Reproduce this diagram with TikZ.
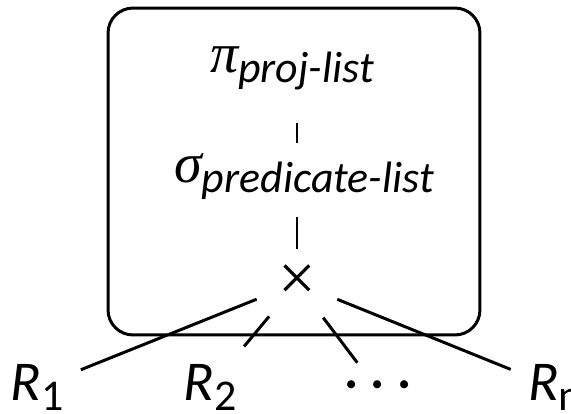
\documentclass[tikz,border=0pt]{standalone}
\usepackage{fontspec}
\setmainfont{Carlito}
\newfontfamily\greekfont{Liberation Serif}
\usetikzlibrary{positioning}
\newcommand{\lowsub}[1]{\raisebox{-0.19em}{\fontsize{25}{30}\selectfont #1}}

\begin{document}
\begin{tikzpicture}[
    x=0.02cm, y=-0.02cm,
    line width=1.7pt,
    every node/.style={font=\fontsize{32}{38}\selectfont},
    opnode/.style={inner sep=0pt, anchor=base},
    relnode/.style={inner sep=0.32cm, anchor=base},
    framebox/.style={draw, rounded corners=0.5cm, minimum width=7.44cm, minimum height=6.54cm}
]
    \useasboundingbox (0,0) rectangle (571,413);

    % Frame around the operators
    \node[framebox] (frame) at (294,171.5) {};

    % Operators
    \node[opnode] (proj) at (292,72) {{\greekfont\itshape π}\lowsub{\itshape proj-list}};
    \node[opnode] (sel) at (304,182) {{\greekfont\itshape σ}\lowsub{\itshape predicate-list}};
    \node[circle, inner sep=0pt, minimum size=1.68cm, font=\greekfont\fontsize{38}{44}\selectfont] (cross) at (297,283) {×};

    % Relations
    \node[relnode] (r1) at (37,400) {\textit{R}\lowsub{1}};
    \node[relnode] (r2) at (210,400) {\textit{R}\lowsub{2}};
    \node[relnode] (dots) at (378,400) {·\hspace{0.22em}·\hspace{0.22em}·};
    \node[relnode] (rn) at (555,400) {\textit{R}\lowsub{n}};

    % Lines
    \draw[shorten <=1.02cm, shorten >=0.78cm] (proj.base -| cross) -- (sel.base -| cross);
    \draw[shorten <=0.7cm, shorten >=0.68cm] (sel.base -| cross) -- (cross.center);
    \draw (cross) -- (r1);
    \draw (cross) -- (r2);
    \draw (cross) -- (dots);
    \draw (cross) -- (rn);
\end{tikzpicture}
\end{document}
